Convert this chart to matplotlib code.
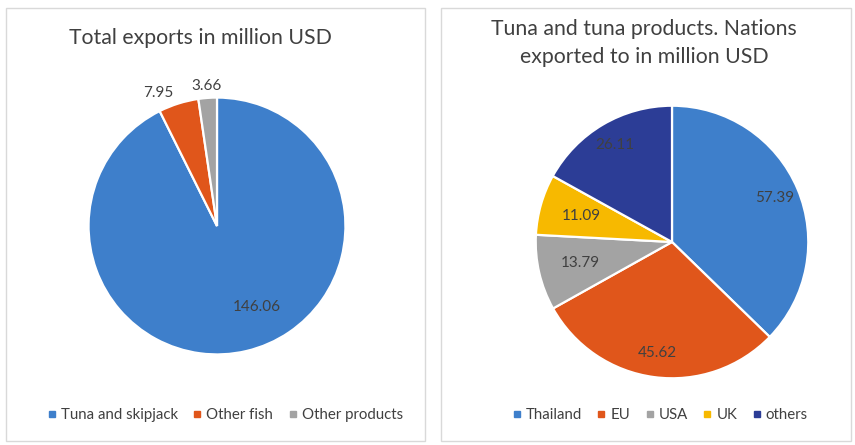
import numpy as np
import matplotlib
matplotlib.use("Agg")
import matplotlib.pyplot as plt
from matplotlib.lines import Line2D
from matplotlib.patches import Rectangle

plt.rcParams['font.family'] = ['Lato', 'DejaVu Sans']

# left chart data
export_labels = ['Tuna and skipjack', 'Other fish', 'Other products']
export_values = [146.06, 7.95, 3.66]
export_colors = ['#3E7FCB', '#E0561B', '#A3A3A3']

# right chart data
nation_labels = ['Thailand', 'EU', 'USA', 'UK', 'others']
nation_values = [57.39, 45.62, 13.79, 11.09, 26.11]
nation_colors = ['#3E7FCB', '#E0561B', '#A3A3A3', '#F7B900', '#2C3D96']

W, H = 855, 445
fig = plt.figure(figsize=(W / 100, H / 100), dpi=100)


def px_axes(cx, cy, r):
    # square axes centred on a pixel position (y from top)
    return fig.add_axes([(cx - r) / W, (H - cy - r) / H, 2 * r / W, 2 * r / H])


# panel borders
for x0, x1 in [(6, 425), (441, 851)]:
    fig.patches.append(Rectangle((x0 / W, 4 / H), (x1 - x0) / W, (437 / H) - (4 / H),
                                 transform=fig.transFigure, fill=False,
                                 edgecolor='#D9D9D9', linewidth=1.0))


def draw_pie(ax, values, colors, dists, angle_fix=None):
    wedges, _ = ax.pie(values, colors=colors, startangle=90, counterclock=False,
                       radius=1.0, wedgeprops=dict(edgecolor='white', linewidth=1.6))
    for i, (w, v) in enumerate(zip(wedges, values)):
        mid = (w.theta1 + w.theta2) / 2.0
        if angle_fix and i in angle_fix:
            mid = angle_fix[i]
        d = dists[i]
        ax.text(d * np.cos(np.radians(mid)), d * np.sin(np.radians(mid)),
                f'{v:.2f}', ha='center', va='center', fontsize=11, color='#404040')
    ax.set_xlim(-1.02, 1.02)
    ax.set_ylim(-1.02, 1.02)
    ax.set_aspect('equal')
    ax.axis('off')
    return wedges


ax1 = px_axes(217, 226, 131)
# Excel "best fit" label placement for the left chart
draw_pie(ax1, export_values, export_colors, [0.70, 1.13, 1.09],
         angle_fix={0: -64, 1: 114})

ax2 = px_axes(672, 242, 139)
draw_pie(ax2, nation_values, nation_colors, [0.82, 0.82, 0.69, 0.69, 0.83])

# titles
fig.text(200 / W, 1 - 38 / H, 'Total exports in million USD', ha='center', va='center',
         fontsize=15.3, color='#404040')
fig.text(644 / W, 1 - 43 / H, 'Tuna and tuna products. Nations\nexported to in million USD',
         ha='center', va='center', fontsize=15.3, color='#404040', linespacing=1.45)


def legend(labels, colors, cx):
    handles = [Line2D([], [], marker='s', linestyle='none', markersize=4.5,
                      markerfacecolor=c, markeredgecolor=c) for c in colors]
    fig.legend(handles, labels, loc='center', bbox_to_anchor=(cx / W, 1 - 415 / H),
               ncol=len(labels), frameon=False, fontsize=10.8, handlelength=0.6,
               handletextpad=0.3, columnspacing=1.0, labelcolor='#404040')


legend(export_labels, export_colors, 225)
legend(nation_labels, nation_colors, 660)

fig.savefig('out.png', dpi=100)
